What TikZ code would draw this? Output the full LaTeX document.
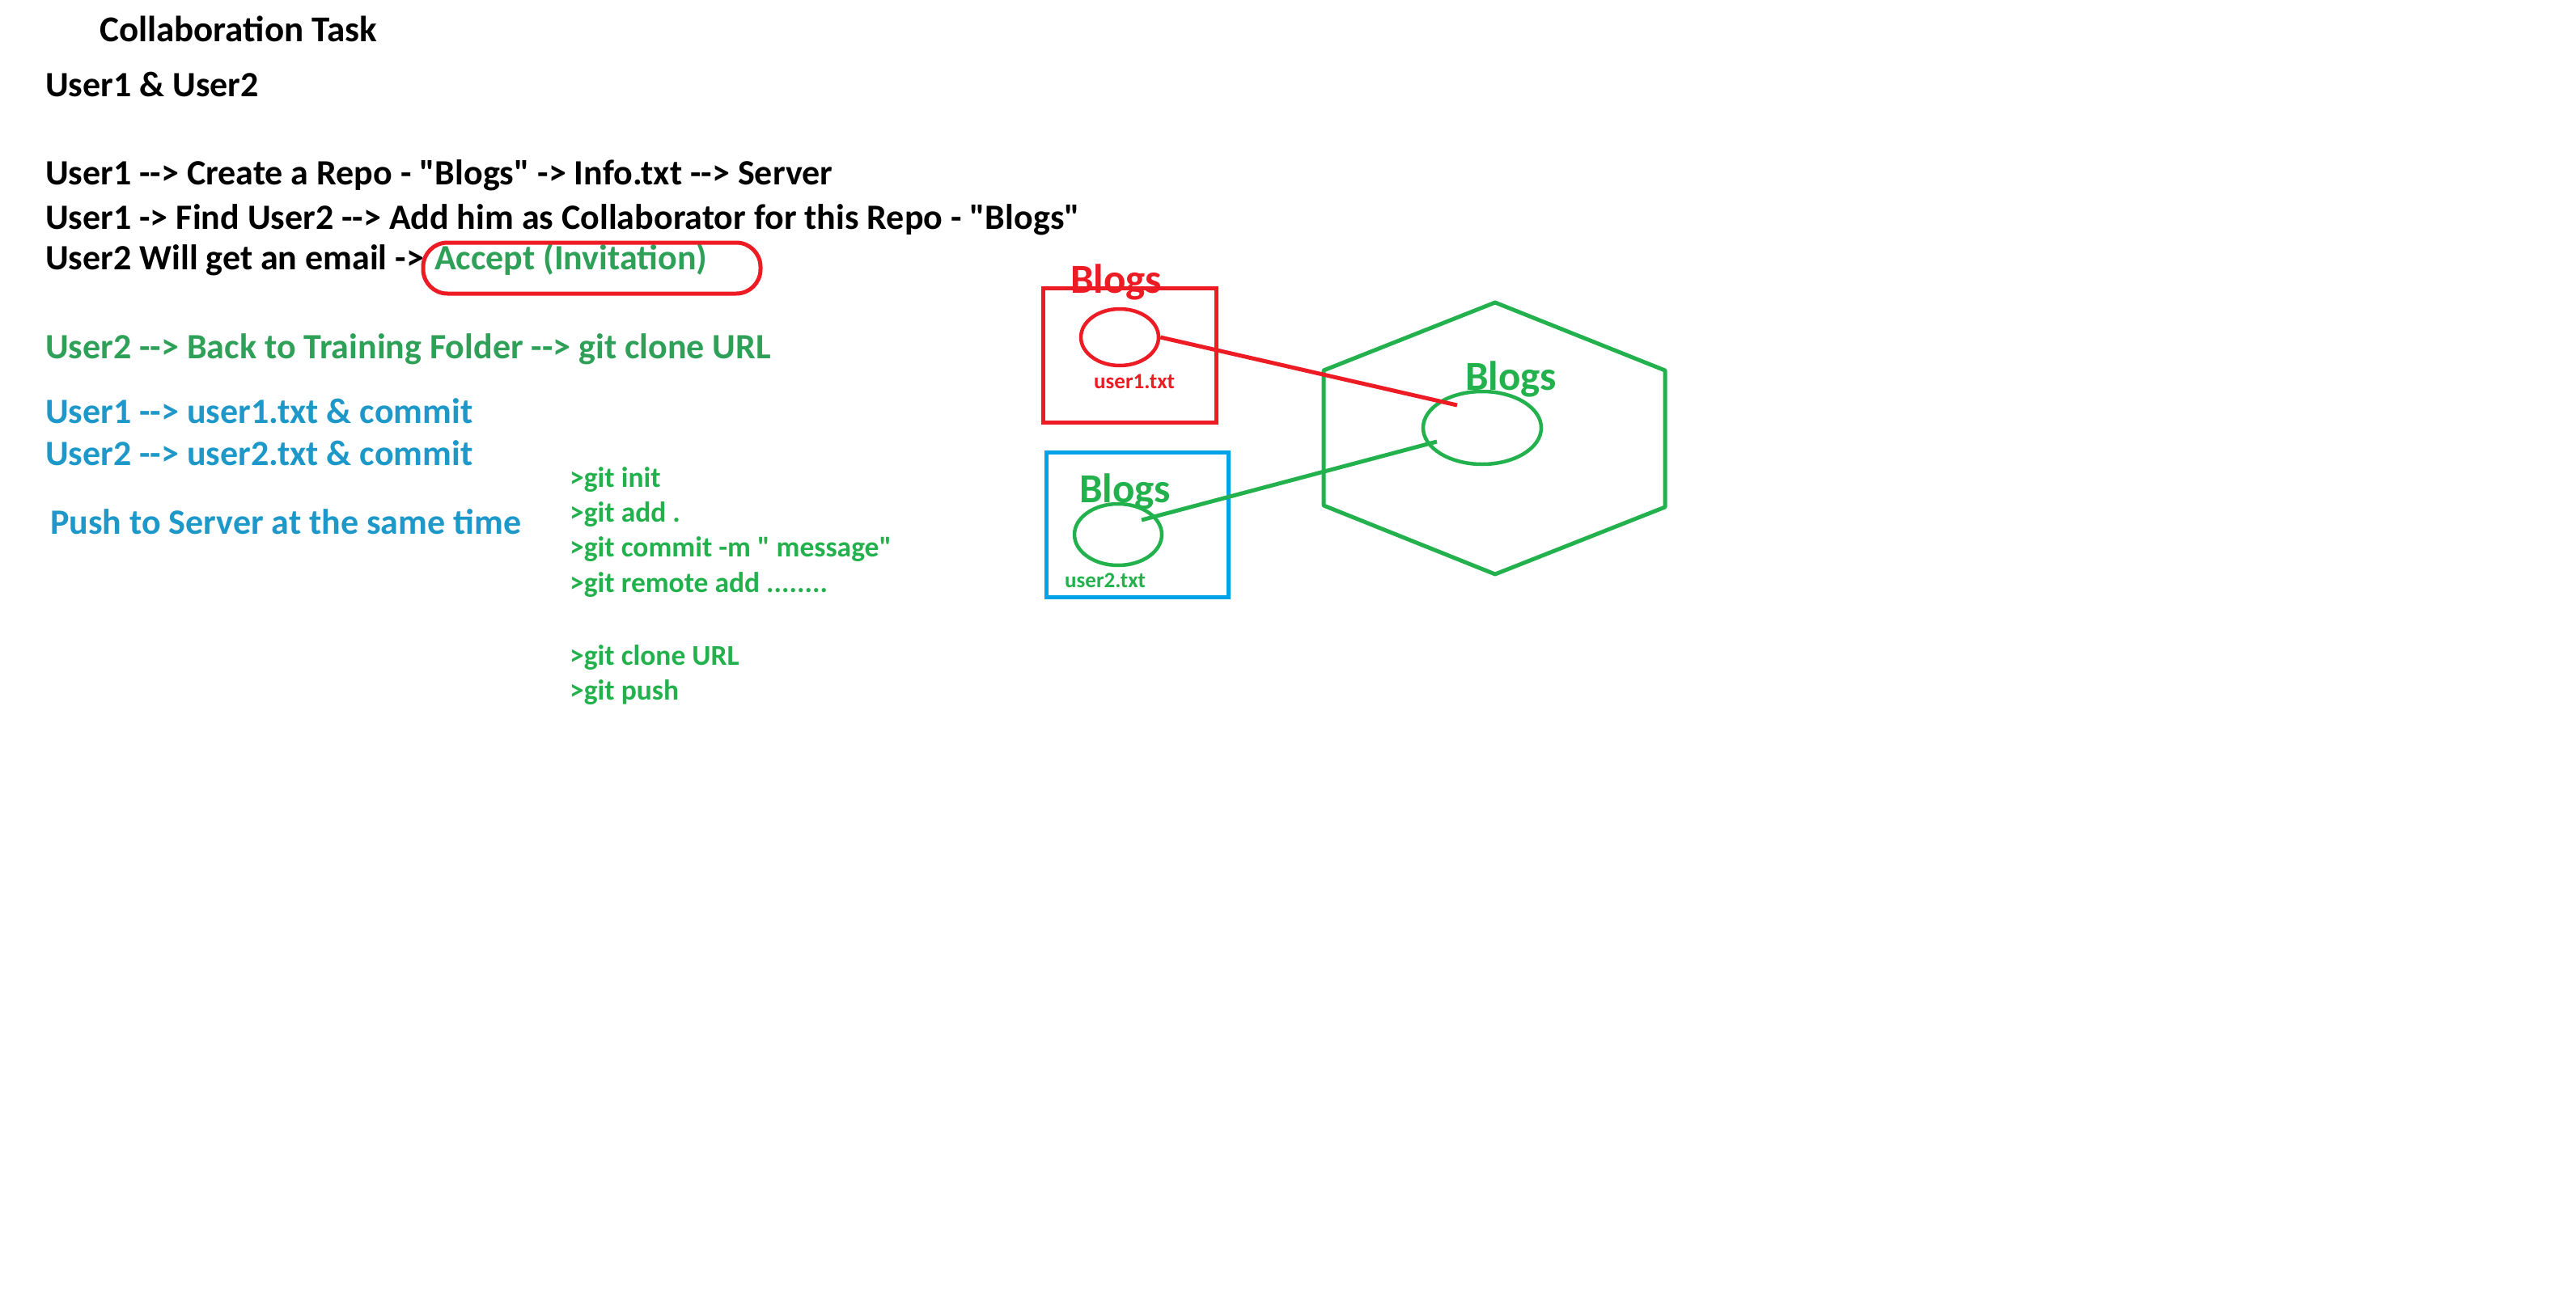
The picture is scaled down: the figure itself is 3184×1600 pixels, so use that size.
\documentclass[tikz,border=0pt]{standalone}
\usepackage{fontspec}
\setmainfont{Carlito}[Ligatures=TeXOff]
\usetikzlibrary{shapes.geometric}
\definecolor{pred}{RGB}{237,28,36}
\definecolor{pgreen}{RGB}{34,177,76}
\definecolor{tgreen}{RGB}{46,160,88}
\definecolor{tblue}{RGB}{30,152,200}
\definecolor{pblue}{RGB}{0,162,232}
\newcommand{\remotedots}{........}
\begin{document}
\begin{tikzpicture}[
    x = 1pt, y = -1pt,
    txt/.style = {
      inner sep = 0pt,
      anchor = base west,
      font = \bfseries\fontsize{44}{52}\selectfont
    },
    cmd/.style = {
      txt,
      text = pgreen,
      font = \bfseries\fontsize{35.5}{42}\selectfont
    },
    repo/.style = {
      inner sep = 0pt,
      anchor = base west,
      font = \bfseries\fontsize{51}{60}\selectfont
    },
    fname/.style = {
      inner sep = 0pt,
      anchor = base west,
      font = \bfseries\fontsize{27}{32}\selectfont
    },
    box/.style = {
      draw,
      rectangle,
      line width = 5pt,
      inner sep = 0pt
    },
    file/.style = {
      draw,
      ellipse,
      line width = 4.5pt,
      inner sep = 0pt
    }
  ]
    \useasboundingbox (0, 0) rectangle (3184, 1600);

    % task text
    \node[txt, font = \bfseries\fontsize{45}{54}\selectfont] (title) at (123, 52) {Collaboration Task};
    \node[txt] (pair) at (56, 120) {User1 \& User2};
    \node[txt] (stepa) at (56, 228) {User1 --> Create a Repo - "Blogs" -> Info.txt --> Server};
    \node[txt] (stepb) at (56, 283) {User1 -> Find User2 --> Add him as Collaborator for this Repo - "Blogs"};
    \node[txt] (stepc) at (56, 333) {User2 Will get an email ->};
    \node[txt, text = tgreen] (accept) at (537, 333) {Accept (Invitation)};
    \node[draw = pred, line width = 5pt, rounded corners = 30pt,
      minimum width = 417pt, minimum height = 63pt] (invite) at (731.5, 331.5) {};
    \node[txt, text = tgreen] (clone) at (56, 443) {User2 --> Back to Training Folder --> git clone URL};
    \node[txt, text = tblue] (commita) at (56, 523) {User1 --> user1.txt \& commit};
    \node[txt, text = tblue] (commitb) at (56, 575) {User2 --> user2.txt \& commit};
    \node[txt, text = tblue] (push) at (62, 660) {Push to Server at the same time};

    % git commands
    \foreach \y/\c [count = \n] in {602/init, 645/add ., 688/commit -m " message", 732/remote add \remotedots, 822/clone URL, 865/push} {
      \node[cmd] (cmd\n) at (704, \y) {>git \c};
    }

    % local repos
    \node[box, draw = pred, minimum width = 214pt, minimum height = 166pt] (local1) at (1396, 439) {};
    \node[repo, text = pred] (blogs1) at (1323, 362) {Blogs};
    \node[file, draw = pred, minimum width = 96pt, minimum height = 70pt] (f1) at (1384, 417) {};
    \node[fname, text = pred] (name1) at (1352, 480) {user1.txt};

    \node[box, draw = pblue, minimum width = 225pt, minimum height = 179pt] (local2) at (1405.5, 648.5) {};
    \node[repo, text = pgreen] (blogs2) at (1334, 621) {Blogs};
    \node[file, draw = pgreen, minimum width = 108pt, minimum height = 76pt] (f2) at (1382, 661) {};
    \node[fname, text = pgreen] (name2) at (1316, 726) {user2.txt};

    % server
    \draw[draw = pgreen, line width = 5pt, line join = round]
      (1848, 374) -- (2058, 458) -- (2058, 627) -- (1848, 710) -- (1636, 625) -- (1636, 458) -- cycle;
    \node[repo, text = pgreen] (blogs3) at (1811, 482) {Blogs};
    \node[file, draw = pgreen, minimum width = 146pt, minimum height = 90pt] (srv) at (1832, 529) {};

    \coordinate (in1) at (1801, 501);
    \coordinate (out2) at (1411, 643);
    \coordinate (in2) at (1776, 546);
    \draw[draw = pred, line width = 5pt] (f1.east) -- (in1);
    \draw[draw = pgreen, line width = 5pt] (out2) -- (in2);
  \end{tikzpicture}
\end{document}
